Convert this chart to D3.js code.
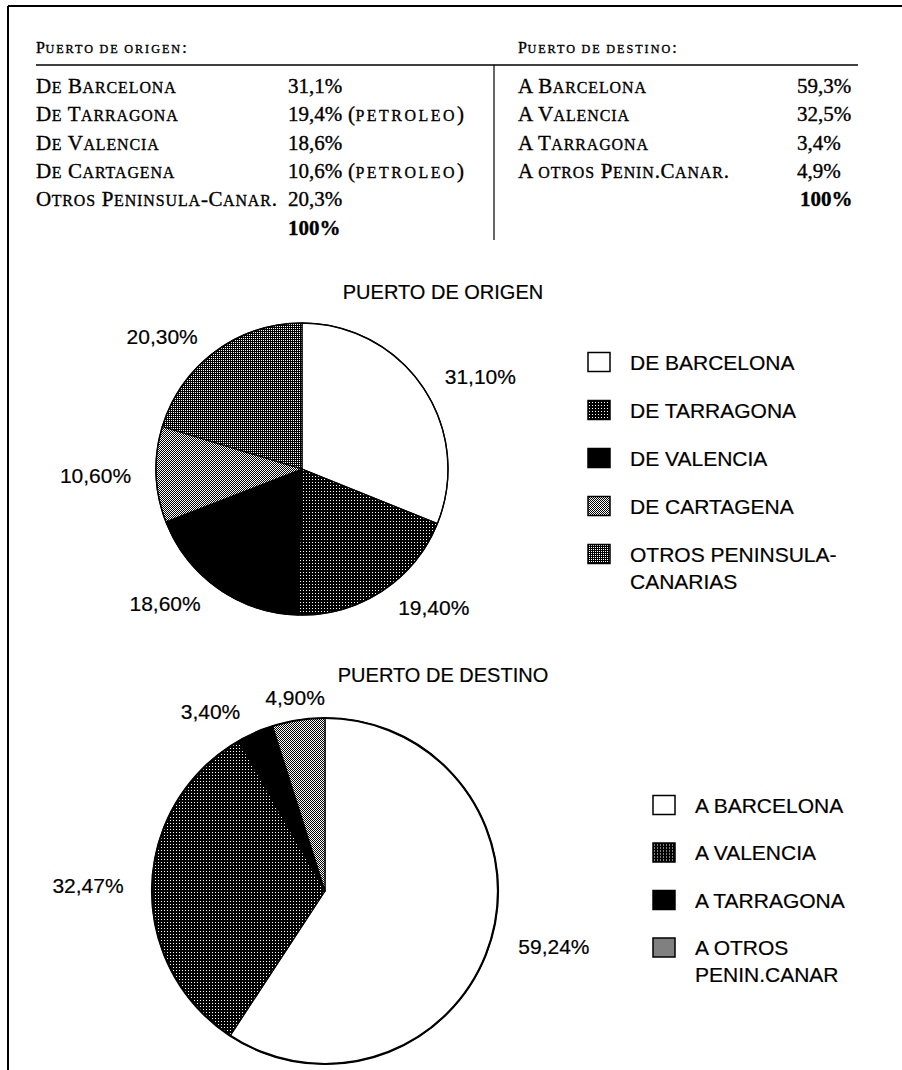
<!DOCTYPE html>
<html>
<head>
<meta charset="utf-8">
<script src="https://cdn.jsdelivr.net/npm/d3@7"></script>
<style>
  body { margin: 0; background: #fff; }
  svg { display: block; }
  .serif { font-family: "Liberation Serif", "DejaVu Serif", serif; fill: #000; stroke: #000; stroke-width: 0.35px; }
  .sans { font-family: "Liberation Sans", Arial, sans-serif; fill: #000; stroke: #000; stroke-width: 0.2px; }
</style>
</head>
<body>
<svg id="chart"></svg>
<script>
// ---- table data ----
const origenPuertos = ["De Barcelona", "De Tarragona", "De Valencia", "De Cartagena", "Otros Peninsula-Canar."];
const origenPct = [31.1, 19.4, 18.6, 10.6, 20.3];
const origenNota = ["", "(petroleo)", "", "(petroleo)", ""];
const destinoPuertos = ["A Barcelona", "A Valencia", "A Tarragona", "A otros Penin.Canar."];
const destinoPct = [59.3, 32.5, 3.4, 4.9];
const totalTxt = "100%";

// ---- pie data ----
const origenTitulo = "PUERTO DE ORIGEN";
const origenLeyenda = [["DE BARCELONA"], ["DE TARRAGONA"], ["DE VALENCIA"], ["DE CARTAGENA"], ["OTROS PENINSULA-", "CANARIAS"]];
const origenPie = [31.10, 19.40, 18.60, 10.60, 20.30];
const origenFill = ["white", "url(#dots)", "black", "url(#checker)", "url(#dots2)"];

const destinoTitulo = "PUERTO DE DESTINO";
const destinoLeyenda = [["A BARCELONA"], ["A VALENCIA"], ["A TARRAGONA"], ["A OTROS", "PENIN.CANAR"]];
const destinoPie = [59.24, 32.47, 3.40, 4.90];
const destinoFill = ["white", "url(#dots)", "black", "url(#checker)"];

const width = 902, height = 1070;
const es = d3.formatLocale({decimal: ",", thousands: ".", grouping: [3], currency: ["", "€"]});
const fmt1 = d => es.format(".1f")(d) + "%";
const fmt2 = d => es.format(".2f")(d) + "%";

const svg = d3.select("#chart").attr("width", width).attr("height", height);

// patterns for the halftone fills
const defs = svg.append("defs");
function pattern(id, size, whites){
    const p = defs.append("pattern").attr("id", id)
        .attr("patternUnits", "userSpaceOnUse")
        .attr("width", size).attr("height", size);
    p.append("rect").attr("width", size).attr("height", size).attr("fill", "black");
    whites.forEach(([x, y]) => p.append("rect").attr("x", x).attr("y", y)
        .attr("width", 1).attr("height", 1).attr("fill", "white"));
}
pattern("dots", 3, [[1, 1]]);
pattern("dots2", 2, [[1, 1]]);
pattern("checker", 2, [[0, 1], [1, 0]]);

// frame
svg.append("line").attr("x1", 8).attr("x2", width).attr("y1", 6).attr("y2", 6)
    .attr("stroke", "black").attr("stroke-width", 2);
svg.append("line").attr("x1", 8).attr("x2", 8).attr("y1", 6).attr("y2", height)
    .attr("stroke", "black").attr("stroke-width", 2);

// small caps writer: capitals at full size, lower case as tracked small capitals
function smallCaps(text, str, size, track){
    const runs = [];
    for(const ch of str){
        const small = ch !== ch.toUpperCase();
        if(runs.length && runs[runs.length - 1].small === small) runs[runs.length - 1].s += ch;
        else runs.push({small, s: ch});
    }
    runs.forEach(r => {
        text.append("tspan")
            .style("font-size", (r.small ? size * 0.76 : size) + "px")
            .style("letter-spacing", (r.small ? track : 0.5) + "px")
            .text(r.small ? r.s.toUpperCase() : r.s);
    });
}

// ---- table ----
const table = {
    leftX: 36, leftValX: 288, rightX: 518, rightValX: 797,
    headerY: 53, ruleY: 65, firstRow: 93, rowStep: 28.3, dividerX: 494, dividerEnd: 240,
    size: 21
};
const rowY = d3.scaleLinear().domain([0, 1]).range([table.firstRow, table.firstRow + table.rowStep]);

smallCaps(svg.append("text").attr("class", "serif").attr("x", table.leftX).attr("y", table.headerY),
    "Puerto de origen:", 16, 2);
smallCaps(svg.append("text").attr("class", "serif").attr("x", table.rightX).attr("y", table.headerY),
    "Puerto de destino:", 16, 2);
svg.append("line").attr("x1", table.leftX).attr("x2", 858).attr("y1", table.ruleY).attr("y2", table.ruleY)
    .attr("stroke", "black").attr("stroke-width", 1.5);
svg.append("line").attr("x1", table.dividerX).attr("x2", table.dividerX)
    .attr("y1", table.ruleY).attr("y2", table.dividerEnd)
    .attr("stroke", "black").attr("stroke-width", 1.2);

origenPuertos.forEach((name, i) => {
    smallCaps(svg.append("text").attr("class", "serif").attr("x", table.leftX).attr("y", rowY(i)),
        name, table.size, 0.9);
    const t = svg.append("text").attr("class", "serif").attr("x", table.leftValX).attr("y", rowY(i))
        .style("font-size", table.size + "px");
    t.append("tspan").text(fmt1(origenPct[i]));
    if(origenNota[i]) smallCaps(t, " " + origenNota[i], table.size, 2.5);
});
svg.append("text").attr("class", "serif").attr("x", table.leftValX).attr("y", rowY(origenPuertos.length))
    .style("font-size", table.size + "px").style("font-weight", "bold").text(totalTxt);

destinoPuertos.forEach((name, i) => {
    smallCaps(svg.append("text").attr("class", "serif").attr("x", table.rightX).attr("y", rowY(i)),
        name, table.size, 0.9);
    svg.append("text").attr("class", "serif").attr("x", table.rightValX).attr("y", rowY(i))
        .style("font-size", table.size + "px").text(fmt1(destinoPct[i]));
});
svg.append("text").attr("class", "serif").attr("x", table.rightValX + 3).attr("y", rowY(destinoPuertos.length))
    .style("font-size", table.size + "px").style("font-weight", "bold").text(totalTxt);

// ---- pies ----
function drawPie(cfg){
    const g = svg.append("g").attr("transform", `translate(${cfg.cx}, ${cfg.cy})`);
    const arcs = d3.pie().sort(null).value(d => d)(cfg.values);
    const arc = d3.arc().innerRadius(0).outerRadius(cfg.r);

    g.selectAll("path.slice")
        .data(arcs)
        .join("path")
        .attr("class", "slice")
        .attr("d", arc)
        .attr("fill", (d, i) => cfg.fills[i])
        .attr("stroke", "black")
        .attr("stroke-width", 1.2)
        .attr("stroke-linejoin", "round");
    g.append("circle").attr("r", cfg.r).attr("fill", "none")
        .attr("stroke", "black").attr("stroke-width", cfg.rim);

    // labels sit outside the rim along each slice's mid angle
    const labelR = cfg.r * 1.13, pad = 6;
    const mid = d => (d.startAngle + d.endAngle) / 2;
    const side = d => {
        const s = Math.sin(mid(d));
        return s > 0.25 ? 1 : s < -0.25 ? -1 : 0;
    };
    g.selectAll("text.lbl")
        .data(arcs)
        .join("text")
        .attr("class", "lbl sans")
        .attr("x", d => Math.sin(mid(d)) * labelR + side(d) * pad)
        .attr("y", d => -Math.cos(mid(d)) * labelR)
        .attr("dy", "0.35em")
        .attr("text-anchor", d => side(d) > 0 ? "start" : side(d) < 0 ? "end" : "middle")
        .style("font-size", "21px")
        .text(d => fmt2(d.data));

    svg.append("text").attr("class", "sans")
        .attr("x", cfg.titleX).attr("y", cfg.titleY)
        .attr("text-anchor", "middle")
        .style("font-size", "20px")
        .text(cfg.title);

    // legend
    const lg = svg.append("g").attr("transform", `translate(${cfg.legendX}, ${cfg.legendY})`);
    const item = lg.selectAll("g")
        .data(cfg.legend)
        .join("g")
        .attr("transform", (d, i) => `translate(0, ${i * cfg.legendStep})`);
    item.append("rect")
        .attr("x", 0).attr("y", -9.5)
        .attr("width", 22).attr("height", 19)
        .attr("fill", (d, i) => cfg.fills[i])
        .attr("stroke", "black").attr("stroke-width", 1.5);
    item.append("text")
        .attr("class", "sans")
        .attr("x", 42)
        .attr("y", 0)
        .style("font-size", "21px")
        .selectAll("tspan")
        .data(d => d)
        .join("tspan")
        .attr("x", 42)
        .attr("dy", (d, i) => i === 0 ? "0.36em" : "1.3em")
        .text(d => d);
}

drawPie({
    cx: 302, cy: 469, r: 146, rim: 1.4,
    values: origenPie, fills: origenFill,
    title: origenTitulo, titleX: 443, titleY: 299,
    legend: origenLeyenda, legendX: 588, legendY: 362, legendStep: 48
});
drawPie({
    cx: 325, cy: 891, r: 173, rim: 2.2,
    values: destinoPie, fills: destinoFill,
    title: destinoTitulo, titleX: 443, titleY: 682,
    legend: destinoLeyenda, legendX: 653, legendY: 805, legendStep: 47.5
});
</script>
</body>
</html>
